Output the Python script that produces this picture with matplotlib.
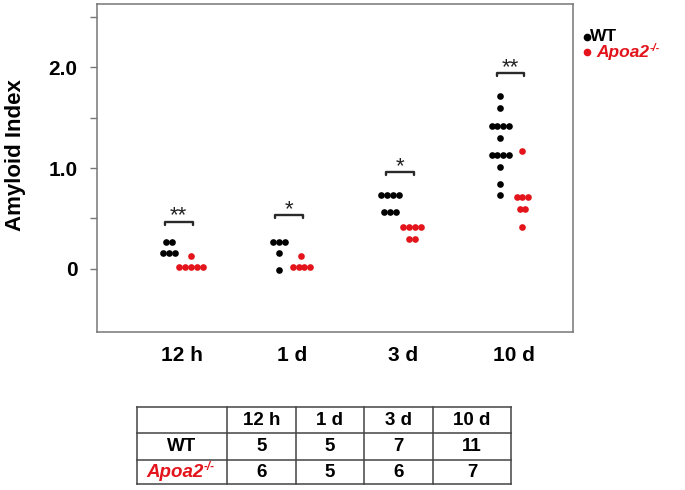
import matplotlib
matplotlib.use("Agg")
import matplotlib.pyplot as plt
from collections import Counter

plt.rcParams['font.family'] = ['Liberation Sans', 'DejaVu Sans']

RED = '#e3141b'

categories = ['12 h', '1 d', '3 d', '10 d']

# amyloid index values
wt_12h = [0.27, 0.27, 0.16, 0.16, 0.16]
ko_12h = [0.13, 0.02, 0.02, 0.02, 0.02, 0.02]
wt_1d = [0.27, 0.27, 0.27, 0.16, -0.01]
ko_1d = [0.13, 0.02, 0.02, 0.02, 0.02]
wt_3d = [0.73, 0.73, 0.73, 0.73, 0.56, 0.56, 0.56]
ko_3d = [0.42, 0.42, 0.42, 0.42, 0.30, 0.30]
wt_10d = [1.71, 1.59, 1.42, 1.42, 1.42, 1.42, 1.30, 1.13, 1.13, 1.13, 1.13,
          1.01, 0.84, 0.73]
ko_10d = [1.17, 0.71, 0.71, 0.71, 0.59, 0.59, 0.42]

wt_groups = [wt_12h, wt_1d, wt_3d, wt_10d]
ko_groups = [ko_12h, ko_1d, ko_3d, ko_10d]

sig_marks = ['**', '*', '*', '**']
sig_heights = [0.47, 0.53, 0.96, 1.94]

n_wt = [5, 5, 7, 11]
n_ko = [6, 5, 6, 7]


def swarm(values, center, dx=0.053):
    # spread equal values side by side around the group centre
    xs, ys = [], []
    counts = Counter(values)
    for v, n in counts.items():
        for k in range(n):
            xs.append(center + (k - (n - 1) / 2.0) * dx)
            ys.append(v)
    return xs, ys


def apoa2_label(axis, x, y, size, **kw):
    t = axis.text(x, y, 'Apoa2', fontsize=size, fontweight='bold',
                  fontstyle='italic', color=RED, va='center', **kw)
    axis.annotate('-/-', xy=(1.0, 0.78), xycoords=t, ha='left', va='center',
                  fontsize=size * 0.62, fontweight='bold', fontstyle='italic',
                  color=RED)
    return t


fig = plt.figure(figsize=(6.85, 4.9), dpi=100)
ax = fig.add_axes([0.1412, 0.3231, 0.6958, 0.6687])

for i in range(len(categories)):
    xs, ys = swarm(wt_groups[i], i + 1 - 0.12)
    ax.plot(xs, ys, 'o', color='black', markersize=4.8, markeredgewidth=0)
    xs, ys = swarm(ko_groups[i], i + 1 + 0.08)
    ax.plot(xs, ys, 'o', color=RED, markersize=4.8, markeredgewidth=0)

    # significance bracket
    x0 = i + 1 - 0.155
    x1 = i + 1 + 0.095
    h = sig_heights[i]
    ax.plot([x0, x0, x1, x1], [h - 0.03, h, h, h - 0.03], color='#2a2a2a',
            lw=1.7, solid_joinstyle='round', solid_capstyle='round')
    ax.text((x0 + x1) / 2, h + 0.0, sig_marks[i], ha='center', va='baseline',
            fontsize=16, color='#222222')

ax.set_xlim(0.228, 4.54)
ax.set_ylim(-0.621, 2.624)
ax.set_xticks([1, 2, 3, 4])
ax.set_xticklabels(categories, fontsize=15, fontweight='bold')
ax.tick_params(axis='x', length=0, pad=10)
ax.set_yticks([0, 0.5, 1.0, 1.5, 2.0, 2.5])
ax.set_yticklabels(['0', '', '1.0', '', '2.0', ''], fontsize=15, fontweight='bold')
ax.tick_params(axis='y', length=5, width=1, color='#777777', pad=9)
for s in ax.spines.values():
    s.set_color('#777777')
    s.set_linewidth(1.1)

fig.text(0.022, 0.684, 'Amyloid Index', rotation=90, ha='center', va='center',
         fontsize=16, fontweight='bold')

# legend
ax.plot([1.028], [0.900], 'o', color='black', markersize=4.5,
        transform=ax.transAxes, clip_on=False)
ax.text(1.035, 0.900, 'WT', transform=ax.transAxes, ha='left', va='center',
        fontsize=12.5, fontweight='bold')
ax.plot([1.028], [0.853], 'o', color=RED, markersize=4.5,
        transform=ax.transAxes, clip_on=False)
apoa2_label(ax, 1.049, 0.853, 12.5, transform=ax.transAxes, ha='left')

# table of group sizes
tab = fig.add_axes([137.3 / 685, 1 - 484 / 490, (510.7 - 137.3) / 685, 76.7 / 490])
tab.set_xlim(137.3, 510.7)
tab.set_ylim(484, 407.3)
tab.axis('off')
col_edges = [137.3, 226.7, 295.7, 364.3, 433.3, 510.7]
row_edges = [407.3, 433.3, 460, 484]
for x in col_edges:
    tab.plot([x, x], [row_edges[0], row_edges[-1]], color='#444444', lw=1.1,
             clip_on=False)
for y in row_edges:
    tab.plot([col_edges[0], col_edges[-1]], [y, y], color='#444444', lw=1.1,
             clip_on=False)

rows = [[''] + categories,
        ['WT'] + [str(n) for n in n_wt],
        [None] + [str(n) for n in n_ko]]
for r, row in enumerate(rows):
    yc = (row_edges[r] + row_edges[r + 1]) / 2
    for c, txt in enumerate(row):
        xc = (col_edges[c] + col_edges[c + 1]) / 2
        if txt is None:
            apoa2_label(tab, xc - 7, yc, 13.5, ha='center')
            continue
        tab.text(xc, yc, txt, ha='center', va='center', fontsize=13.5,
                 fontweight='bold', color='black')

fig.savefig('out.png', dpi=100)
